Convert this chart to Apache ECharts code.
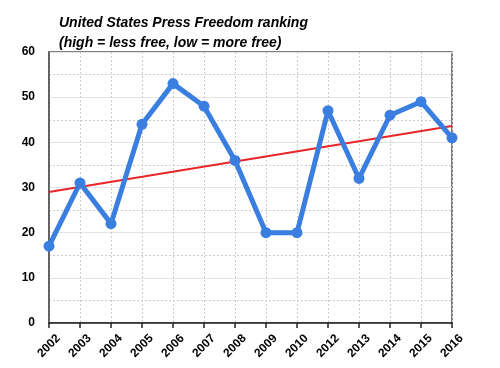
<!DOCTYPE html>
<html><head><meta charset="utf-8">
<script src="https://cdn.jsdelivr.net/npm/echarts@6/dist/echarts.min.js"></script>
<style>html,body{margin:0;padding:0;background:#fff}#c{width:500px;height:368px}</style>
</head><body><div id="c"></div>
<script>
const years = ['2002','2003','2004','2005','2006','2007','2008','2009','2010','2012','2013','2014','2015','2016'];
const ranking = [17,31,22,44,53,48,36,20,20,47,32,46,49,41];
const trendStart = 29;
const trendEnd = 43.6;
const yTicks = [0,10,20,30,40,50,60];

const trend = years.map((y,i)=> i===0 ? trendStart : (i===years.length-1 ? trendEnd : null));

const chart = echarts.init(document.getElementById('c'));
chart.setOption({
  animation:false,
  title:{
    text:'United States Press Freedom ranking\n(high = less free, low = more free)',
    left:54, top:8,
    textStyle:{fontFamily:'Liberation Sans, Arial, sans-serif',fontSize:14,fontWeight:'bold',fontStyle:'italic',color:'#000',lineHeight:20}
  },
  grid:{left:49,right:48,top:52,bottom:45,show:true,borderColor:'#555',borderWidth:1.5,backgroundColor:'transparent'},
  xAxis:{
    type:'category', data:years, boundaryGap:false,
    axisLine:{lineStyle:{color:'#222',width:1.5}},
    axisTick:{show:true,alignWithLabel:true,length:5,lineStyle:{color:'#222',width:1.5}},
    axisLabel:{rotate:45,align:'center',verticalAlign:'middle',fontFamily:'Liberation Sans, Arial, sans-serif',fontSize:12,fontWeight:'bold',color:'#000',margin:23,interval:0},
    splitLine:{show:true,lineStyle:{color:'#ccc',type:[2,2],width:1}}
  },
  yAxis:{
    type:'value', min:yTicks[0], max:yTicks[yTicks.length-1], interval:10,
    axisLine:{show:true,lineStyle:{color:'#555',width:1.5}},
    axisTick:{show:false},
    axisLabel:{fontFamily:'Liberation Sans, Arial, sans-serif',fontSize:12,fontWeight:'bold',color:'#000',margin:14},
    splitLine:{show:true,lineStyle:{color:'#e4e4e4',width:1.2}},
    minorTick:{show:false,splitNumber:2},
    minorSplitLine:{show:true,lineStyle:{color:'#ccc',type:[2,2],width:1}}
  },
  series:[
    {type:'line',data:trend,connectNulls:true,symbol:'none',lineStyle:{color:'#e8262a',width:2},z:3},
    {type:'line',data:ranking,symbol:'circle',symbolSize:11,lineStyle:{color:'#3a7fdf',width:5},itemStyle:{color:'#3a7fdf'},z:4}
  ]
});
</script></body></html>
